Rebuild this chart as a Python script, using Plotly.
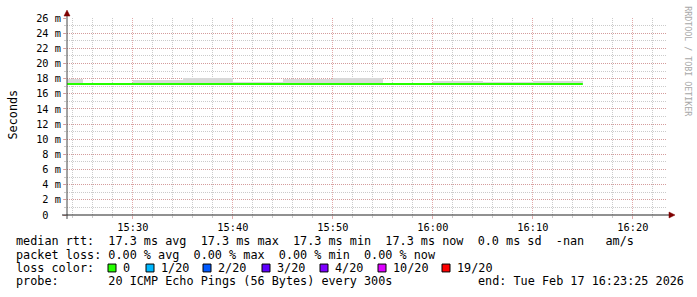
import plotly.graph_objects as go
from datetime import datetime, timedelta

# ---------------- data ----------------
day = "2026-02-17"
interval_start = ["15:20", "15:25", "15:30", "15:35", "15:40", "15:45",
                  "15:50", "15:55", "16:00", "16:05", "16:10"]
smoke_top = [18.0, 17.38, 17.8, 18.05, 17.5, 17.95, 18.05, 17.35, 17.7, 17.5, 17.7]
smoke_bottom = [17.2, 17.2, 17.2, 17.2, 17.2, 17.2, 17.2, 17.2, 17.2, 17.2, 17.2]
median_rtt = [17.3, 17.3, 17.3, 17.3, 17.3, 17.3, 17.3, 17.3, 17.3, 17.3, 17.3]

y_tickvals = [0, 2, 4, 6, 8, 10, 12, 14, 16, 18, 20, 22, 24, 26]
y_ticktext = ["0\u00a0\u00a0", "2 m", "4 m", "6 m", "8 m", "10 m", "12 m", "14 m",
              "16 m", "18 m", "20 m", "22 m", "24 m", "26 m"]

range_start = "2026-02-17 15:23:25"
range_end = "2026-02-17 16:23:25"

loss_labels = ["0", "1/20", "2/20", "3/20", "4/20", "10/20", "19/20"]
loss_colors = ["#26ff00", "#00b8ff", "#0059ff", "#5e00ff", "#7e00ff", "#dd00ff", "#ff0000"]

row_median = "median rtt:  17.3 ms avg  17.3 ms max  17.3 ms min  17.3 ms now  0.0 ms sd  -nan   am/s"
row_loss = "packet loss: 0.00 % avg  0.00 % max  0.00 % min  0.00 % now"
row_color = "loss color:"
row_probe = "probe:       20 ICMP Echo Pings (56 Bytes) every 300s"
row_end = "end: Tue Feb 17 16:23:25 2026"

# ---------------- layout helpers ----------------
W, H = 697, 297
L, T, PW, PH = 67, 15, 600, 200
def px(x):
    return (x - L) / PW
def py(y):
    return (T + PH - y) / PH
def nb(s):
    return s.replace(" ", "\u00a0")

MONO = "DejaVu Sans Mono"

starts = [datetime.fromisoformat(f"{day} {t}:00") for t in interval_start]
step = timedelta(minutes=5)
mids = [s + step / 2 for s in starts]

fig = go.Figure()
fig.add_trace(go.Bar(
    x=mids, y=[t - b for t, b in zip(smoke_top, smoke_bottom)], base=smoke_bottom,
    width=[300000] * len(mids), marker=dict(color="#d9d9d9", line=dict(width=0)),
    hoverinfo="skip", showlegend=False))
fig.add_trace(go.Scatter(
    x=starts + [starts[-1] + step], y=median_rtt + [median_rtt[-1]],
    mode="lines", line=dict(color="#26ff00", width=2, shape="hv"),
    hoverinfo="skip", showlegend=False))

major_grid = "rgba(215,140,140,0.75)"
minor_grid = "rgba(185,185,185,0.75)"

fig.update_layout(
    width=W, height=H,
    margin=dict(l=L, r=W - L - PW, t=T, b=H - T - PH, pad=0),
    paper_bgcolor="white", plot_bgcolor="white",
    showlegend=False, hovermode=False, bargap=0,
    font=dict(family=MONO, color="#000000", size=10.3),
    xaxis=dict(
        type="date", range=[range_start, range_end],
        tick0="2026-02-17 15:30:00", dtick=600000, tickformat="%H:%M",
        showgrid=True, gridcolor=major_grid, griddash="1px,1px", gridwidth=1,
        ticks="outside", ticklen=3, tickcolor=major_grid,
        showline=False, zeroline=False,
        tickfont=dict(family=MONO, size=10.3, color="#000"),
        minor=dict(dtick=120000, tick0="2026-02-17 15:30:00", showgrid=True,
                   gridcolor=minor_grid, griddash="1px,1px", gridwidth=1,
                   ticks="outside", ticklen=2, tickcolor=minor_grid),
        fixedrange=True,
    ),
    yaxis=dict(
        range=[0, 26], tickvals=y_tickvals, ticktext=y_ticktext,
        showgrid=True, gridcolor=major_grid, griddash="1px,1px", gridwidth=1,
        ticks="outside", ticklen=3, tickcolor=major_grid,
        showline=False, zeroline=False,
        tickfont=dict(family=MONO, size=10.3, color="#000"),
        minor=dict(dtick=1, showgrid=True, gridcolor=minor_grid, griddash="1px,1px",
                   gridwidth=1, ticks="outside", ticklen=2, tickcolor=minor_grid),
        fixedrange=True,
    ),
)

shapes = []
# axis lines
shapes.append(dict(type="line", xref="paper", yref="paper", x0=px(67), x1=px(67),
                   y0=py(219), y1=py(12), line=dict(color="#444444", width=1)))
shapes.append(dict(type="line", xref="paper", yref="paper", x0=px(62), x1=px(670),
                   y0=py(215), y1=py(215), line=dict(color="#222222", width=1)))
# arrows
shapes.append(dict(type="path", xref="paper", yref="paper",
                   path=f"M {px(64)} {py(13)} L {px(70)} {py(13)} L {px(67)} {py(7)} Z",
                   fillcolor="#7f0000", line=dict(color="#7f0000", width=0.5)))
shapes.append(dict(type="path", xref="paper", yref="paper",
                   path=f"M {px(669)} {py(212)} L {px(669)} {py(218)} L {px(675)} {py(215)} Z",
                   fillcolor="#7f0000", line=dict(color="#7f0000", width=0.5)))

ann = []
LEG = 11.8
rows_y = [241.5, 255.2, 268.8, 282.5]
def text_at(x, y, s, size=LEG, color="#000", angle=0, xanchor="left"):
    ann.append(dict(text=nb(s), x=px(x), y=py(y), xref="paper", yref="paper",
                    xanchor=xanchor, yanchor="middle", showarrow=False, textangle=angle,
                    font=dict(family=MONO, size=size, color=color), borderpad=0))

text_at(15, rows_y[0], row_median)
text_at(15, rows_y[1], row_loss)
text_at(15, rows_y[2], row_color)
text_at(15, rows_y[3], row_probe)
text_at(477, rows_y[3], row_end)

square_x = [108, 146, 203, 262, 320, 378, 442]
for sx, lab, col in zip(square_x, loss_labels, loss_colors):
    shapes.append(dict(type="rect", xref="paper", yref="paper",
                       x0=px(sx), x1=px(sx + 8), y0=py(rows_y[2] + 4), y1=py(rows_y[2] - 4),
                       fillcolor=col, line=dict(color="#000", width=1)))
    text_at(sx + 14, rows_y[2], lab)

ann.append(dict(text="Seconds", x=px(13), y=py(113), xref="paper", yref="paper",
                xanchor="center", yanchor="middle", showarrow=False, textangle=-90,
                font=dict(family=MONO, size=LEG, color="#000")))
ann.append(dict(text=nb("RRDTOOL / TOBI OETIKER"), x=px(688), y=py(59), xref="paper",
                yref="paper", xanchor="center", yanchor="middle", showarrow=False,
                textangle=90, font=dict(family=MONO, size=8.3, color="#a8a8a8")))

fig.update_layout(shapes=shapes, annotations=ann)
fig.write_html("out.html")
